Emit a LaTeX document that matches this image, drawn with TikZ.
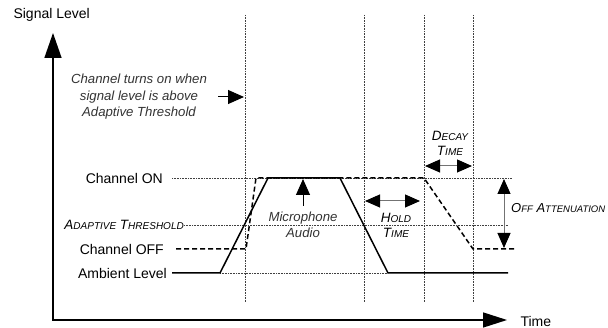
\documentclass[tikz,border=0pt]{standalone}
\usepackage{fontspec}
\setmainfont{Liberation Sans}
\usetikzlibrary{arrows.meta}
\newcommand{\smallcap}[2][10]{{\fontsize{#1}{11}\selectfont #2}}

\begin{document}
\begin{tikzpicture}[
    x=1pt, y=-1pt,
    font=\fontsize{14}{16}\selectfont,
    guide/.style={densely dotted, line width=0.6pt, black!75},
    signal/.style={line width=1.5pt, line join=miter},
    gain/.style={line width=1.5pt, dash pattern=on 5pt off 3pt},
    axis/.style={
        line width=1.5pt, line join=miter,
        {Triangle[length=24pt,width=15pt]}-{Triangle[length=25pt,width=17pt]}
    },
    span/.style={
        line width=1pt, black!55,
        {Triangle[length=15pt,width=13pt,black]}-{Triangle[length=15pt,width=13pt,black]}
    },
    pointer/.style={line width=1pt, -{Triangle[length=16pt,width=14pt]}},
    note/.style={font=\fontsize{13.2}{16.5}\selectfont\itshape, align=center, text=black!80},
    tag/.style={font=\fontsize{13.5}{15}\selectfont\itshape, align=center},
    level/.style={anchor=east, inner sep=1pt}
]
\useasboundingbox (0,0) rectangle (608,328);

% axes
\coordinate (ytop) at (53,33);
\coordinate (origin) at (53,320);
\coordinate (xend) at (507,320);
\draw[axis] (xend) -- (origin) -- (ytop);
\node[anchor=west] (ylabel) at (10,15) {Signal Level};
\node[anchor=west] (xlabel) at (517,321) {Time};

% time marks
\foreach \x/\n in {245/on, 364/hold, 424/decay, 473/drop} {
    \coordinate (\n-top) at (\x,15);
    \coordinate (\n-bot) at (\x,302);
    \draw[guide] (\n-top) -- (\n-bot);
}

% levels
\node[level] (lon) at (164,178) {Channel ON};
\node[level, tag] (lthr) at (185,225) {A\smallcap{DAPTIVE} T\smallcap{HRESHOLD}};
\node[level] (loff) at (165,249) {Channel OFF};
\node[level] (lamb) at (168,273) {Ambient Level};
\foreach \n/\y/\a/\b in {on/178/172/512, thr/225/184/508, amb/273/220/388} {
    \coordinate (\n-a) at (\a,\y);
    \coordinate (\n-b) at (\b,\y);
    \draw[guide] (\n-a) -- (\n-b);
}

% audio and channel gain
\draw[signal] (172,273) -- (220,273) -- (268,178) -- (340,178) -- (388,273) -- (508,273);
\draw[gain] (176,249) -- (246,249) -- (256,178) -- (424,178) -- (473,249) -- (515,249);

% notes
\node[note] (turnon) at (139,97) {Channel turns on when\\signal level is above\\Adaptive Threshold};
\coordinate (turn-a) at (218,97);
\coordinate (turn-b) at (244,97);
\draw[pointer] (turn-a) -- (turn-b);

\node[note] (mic) at (303,225) {Microphone\\Audio};
\coordinate (mic-a) at (303,206);
\coordinate (mic-b) at (303,179);
\draw[pointer] (mic-a) -- (mic-b);

\coordinate (hold-a) at (365,201);
\coordinate (hold-b) at (420,201);
\draw[span] (hold-a) -- (hold-b);
\node[tag] (holdtime) at (396,225) {H\smallcap{OLD}\\T\smallcap{IME}};

\coordinate (decay-a) at (425,166);
\coordinate (decay-b) at (472,166);
\draw[span] (decay-a) -- (decay-b);
\node[tag] (decaytime) at (450,143) {D\smallcap{ECAY}\\T\smallcap{IME}};

\coordinate (atten-a) at (504,179);
\coordinate (atten-b) at (504,248);
\draw[span] (atten-a) -- (atten-b);
\node[tag, anchor=west, inner sep=0pt, font=\fontsize{13}{15}\selectfont\itshape]
    (atten) at (511,208) {O\smallcap[9.5]{FF} A\smallcap[9.5]{TTENUATION}};
\end{tikzpicture}
\end{document}
